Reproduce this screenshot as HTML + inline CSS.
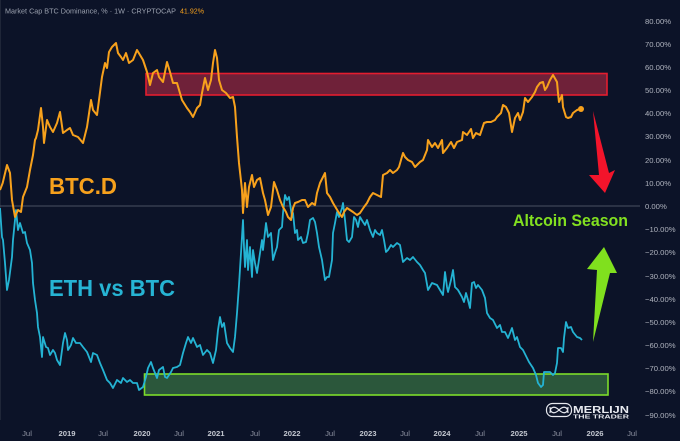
<!DOCTYPE html>
<html><head><meta charset="utf-8"><style>
html,body{margin:0;padding:0;background:#0c1328;}
svg{display:block;}
</style></head><body>
<svg width="680" height="441" viewBox="0 0 680 441" xmlns="http://www.w3.org/2000/svg" font-family="Liberation Sans, Arial, sans-serif">
<rect x="0" y="0" width="680" height="441" fill="#0c1328"/>
<line x1="0.5" y1="0" x2="0.5" y2="420" stroke="#1f2638" stroke-width="1"/>
<!-- zero line -->
<line x1="0" y1="206" x2="640" y2="206" stroke="#4a5162" stroke-width="1"/>

<!-- boxes -->
<rect x="146" y="73.5" width="461" height="21.5" fill="#6f2139" stroke="#e41d2f" stroke-width="1.6"/>
<rect x="144.5" y="374" width="463.5" height="21" fill="#2b573b" stroke="#7ddc2a" stroke-width="1.6"/>

<!-- blue series -->
<polyline fill="none" stroke="#24b3d3" stroke-width="1.8" stroke-linejoin="round" points="0,208 2,237 3,240 5,263 7,290 9,280 12,257 13,240 15,220 16,210 18,230 20,223 23,233 25,232 27,243 30,250 32,263 33,283 35,300 37,313 38,327 40,337 42,357 43,337 46,347 48,348 50,355 53,350 55,353 57,360 60,365 63,343 65,333 67,340 68,350 71,345 73,338 76,343 80,343 83,347 87,352 91,362 93,353 97,355 100,363 103,370 107,380 110,383 113,388 117,380 121,383 123,378 127,382 130,380 133,383 137,383 139,390 143,387 146,377 148,368 151,362 153,368 157,378 159,370 163,367 165,377 167,378 171,372 173,368 177,367 180,365 183,353 186,343 188,337 191,343 193,338 197,347 200,345 203,355 207,350 210,353 213,363 216,350 218,330 220,317 222,327 224,323 227,343 230,348 233,352 235,337 237,313 239,285 241,253 243,220 244,247 245,267 247,240 248,270 250,247 252,277 253,250 255,263 257,273 260,253 262,240 263,250 266,223 268,237 271,233 273,260 275,253 277,247 279,230 282,227 283,213 285,195 287,200 289,197 292,217 293,213 295,233 297,230 298,240 301,237 303,243 306,242 308,233 310,220 313,218 315,222 317,233 319,247 322,260 323,267 325,280 327,277 329,277 332,260 333,233 335,223 337,212 339,217 342,208 343,203 345,220 347,240 349,242 352,237 354,217 356,220 358,227 360,217 363,222 365,225 367,220 370,230 373,237 375,230 377,233 380,235 382,230 384,240 386,252 388,250 391,245 393,247 397,243 400,245 403,262 407,258 410,260 413,257 417,262 420,265 423,270 425,273 428,290 432,283 437,285 440,290 443,295 445,272 447,287 448,292 451,280 453,270 455,287 458,290 462,297 464,302 466,293 468,300 470,308 472,283 474,282 476,288 478,285 482,290 485,298 487,313 490,318 493,320 497,328 500,325 502,332 505,332 508,338 512,328 515,340 517,337 520,347 523,350 527,358 529,362 533,368 536,375 538,383 541,387 543,385 544,372 547,372 550,372 553,375 555,373 557,363 558,348 561,348 563,352 564,338 566,322 568,328 571,327 573,332 577,337 580,338 582,340"/>

<!-- orange series -->
<polyline fill="none" stroke="#f7a11c" stroke-width="2" stroke-linejoin="round" points="0,190 2.7,183 7,165 10,173 12,200 15,217 18,210 21,212 23,197 27,187 30,170 33,155 35,140 36,138 38,130 41,108 43,127 44,143 47,120 50,127 53,132 57,123 60,112 63,133 67,130 70,128 73,135 78,137 83,143 87,127 91,100 93,110 97,115 99,100 102,77 105,63 107,68 109,52 112,47 116,43 118,53 121,57 123,60 126,53 129,63 133,60 137,50 140,55 143,60 147,72 150,85 153,73 157,70 159,77 163,82 167,62 170,72 173,83 177,83 182,100 187,108 190,112 193,117 197,108 200,105 202,93 205,78 208,90 211,80 213,63 215,50 217,58 219,80 222,90 226,93 230,98 233,97 235,107 237,137 239,163 242,190 243,213 245,183 247,207 249,187 252,175 254,187 257,180 260,178 263,193 265,200 268,215 271,207 274,182 277,190 280,200 283,207 286,212 288,217 291,220 293,208 295,203 298,202 302,200 305,200 308,207 312,203 315,205 317,193 320,183 323,177 325,173 327,193 330,197 333,203 336,208 339,213 342,217 344,212 347,208 350,210 353,212 357,215 360,213 364,207 367,203 370,197 373,193 377,195 381,197 383,175 387,173 390,170 393,173 397,170 399,167 403,153 405,157 408,160 412,162 415,167 420,162 423,160 427,150 428,140 432,147 435,143 438,148 442,140 443,153 447,148 451,142 454,148 457,142 462,140 463,132 467,135 471,129 473,138 476,133 480,135 484,123 487,122 491,122 495,120 497,117 501,113 503,105 506,107 509,113 512,132 515,118 518,113 520,120 523,112 525,98 528,102 532,97 535,92 537,87 540,83 543,82 545,90 547,87 550,80 553,75 557,82 558,93 559,102 562,95 563,107 566,117 568,118 571,117 573,113 577,110 580,109"/>
<circle cx="581" cy="109" r="3" fill="#f7a11c"/>

<!-- arrows -->
<polygon points="593,111 609,173 615,170 605,193 589,175 599,175" fill="#f3142b"/>
<polygon points="593,342 597,270 587,269 604,247 617,273 610,273" fill="#80e01e"/>

<!-- labels -->
<text x="49" y="194" font-size="23" font-weight="bold" fill="#f7a11c" textLength="68" lengthAdjust="spacingAndGlyphs">BTC.D</text>
<text x="49" y="296" font-size="23" font-weight="bold" fill="#26b4d4" textLength="126" lengthAdjust="spacingAndGlyphs">ETH vs BTC</text>
<text x="513" y="226" font-size="17" font-weight="bold" fill="#82e020" textLength="115" lengthAdjust="spacingAndGlyphs">Altcoin Season</text>

<!-- title -->
<text x="5" y="13.5" font-size="7.5" fill="#9aa0ae" textLength="171" lengthAdjust="spacingAndGlyphs">Market Cap BTC Dominance, % · 1W · CRYPTOCAP</text>
<text x="180" y="13.5" font-size="7.5" fill="#f7a11c" textLength="24" lengthAdjust="spacingAndGlyphs">41.92%</text>

<!-- y axis -->
<g font-size="7.7" fill="#aeb2bd">
<text x="645" y="24">80.00%</text>
<text x="645" y="47">70.00%</text>
<text x="645" y="70">60.00%</text>
<text x="645" y="93">50.00%</text>
<text x="645" y="116">40.00%</text>
<text x="645" y="139">30.00%</text>
<text x="645" y="163">20.00%</text>
<text x="645" y="186">10.00%</text>
<text x="645" y="209">0.00%</text>
<text x="645" y="232">−10.00%</text>
<text x="645" y="255">−20.00%</text>
<text x="645" y="279">−30.00%</text>
<text x="645" y="302">−40.00%</text>
<text x="645" y="325">−50.00%</text>
<text x="645" y="348">−60.00%</text>
<text x="645" y="371">−70.00%</text>
<text x="645" y="394">−80.00%</text>
<text x="645" y="418">−90.00%</text>
</g>

<!-- x axis -->
<g font-size="7.7" text-anchor="middle">
<text x="27" y="436" fill="#8c91a0">Jul</text>
<text x="67" y="436" fill="#c3c7d0" font-weight="bold">2019</text>
<text x="103" y="436" fill="#8c91a0">Jul</text>
<text x="142" y="436" fill="#c3c7d0" font-weight="bold">2020</text>
<text x="179" y="436" fill="#8c91a0">Jul</text>
<text x="216" y="436" fill="#c3c7d0" font-weight="bold">2021</text>
<text x="255" y="436" fill="#8c91a0">Jul</text>
<text x="292" y="436" fill="#c3c7d0" font-weight="bold">2022</text>
<text x="330" y="436" fill="#8c91a0">Jul</text>
<text x="368" y="436" fill="#c3c7d0" font-weight="bold">2023</text>
<text x="405" y="436" fill="#8c91a0">Jul</text>
<text x="442" y="436" fill="#c3c7d0" font-weight="bold">2024</text>
<text x="480" y="436" fill="#8c91a0">Jul</text>
<text x="519" y="436" fill="#c3c7d0" font-weight="bold">2025</text>
<text x="557" y="436" fill="#8c91a0">Jul</text>
<text x="595" y="436" fill="#c3c7d0" font-weight="bold">2026</text>
<text x="632" y="436" fill="#8c91a0">Jul</text>
</g>

<!-- logo -->
<g>
<rect x="546.5" y="403.5" width="25" height="13" rx="6" fill="none" stroke="#e6e8ee" stroke-width="1.2"/>
<path d="M550,413 C550,406 555,406 559,410 C563,414 568,414 568,407 M550,407 C550,414 555,414 559,410 C563,406 568,406 568,413" fill="none" stroke="#e6e8ee" stroke-width="1.2"/>
<text x="573" y="413" font-size="10" font-weight="bold" fill="#e8eaf0" textLength="56" lengthAdjust="spacingAndGlyphs">MERLIJN</text>
<text x="573" y="418.5" font-size="5.6" font-weight="bold" fill="#e8eaf0" textLength="56" lengthAdjust="spacingAndGlyphs">THE TRADER</text>
</g>
</svg>
</body></html>
